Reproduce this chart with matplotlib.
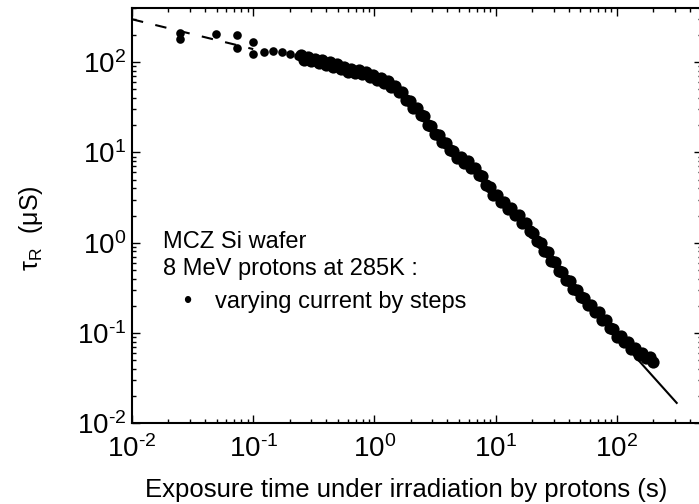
import matplotlib.pyplot as plt
import numpy as np
from matplotlib.ticker import LogLocator, NullFormatter, FuncFormatter

plt.rcParams['font.family'] = ['Liberation Sans', 'DejaVu Sans']
plt.rcParams['mathtext.fontset'] = 'custom'
plt.rcParams['mathtext.rm'] = 'Liberation Sans'
plt.rcParams['mathtext.it'] = 'Liberation Sans:italic'
plt.rcParams['mathtext.bf'] = 'Liberation Sans:bold'

# exposure time (s) and recombination lifetime (us)
t_early = [0.025, 0.025, 0.049, 0.0735, 0.0735, 0.0995, 0.0995, 0.123, 0.146, 0.173, 0.201, 0.234]
tau_early = [210, 180, 205, 200, 143, 167, 123, 129, 132, 129, 123, 117]

t_steps = [0.2455, 0.263, 0.2818, 0.302, 0.3236, 0.3467, 0.3715, 0.3981, 0.4266, 0.4571,
           0.4898, 0.5248, 0.5623, 0.6026, 0.6457, 0.6918, 0.7413, 0.7943, 0.8511, 0.912,
           0.9772, 1.047, 1.122, 1.202, 1.288, 1.380, 1.479, 1.585, 1.698, 1.820,
           1.950, 2.089, 2.239, 2.399, 2.570, 2.754, 2.951, 3.162, 3.388, 3.631,
           3.890, 4.169, 4.467, 4.786, 5.129, 5.495, 5.888, 6.310, 6.761, 7.244,
           7.762, 8.318, 8.913, 9.550, 10.23, 10.96, 11.75, 12.59, 13.49, 14.45,
           15.49, 16.60, 17.78, 19.05, 20.42, 21.88, 23.44, 25.12, 26.92, 28.84,
           30.90, 33.11, 35.48, 38.02, 40.74, 43.65, 46.77, 50.12, 53.70, 57.54,
           61.66, 66.07, 70.79, 75.86, 81.28, 87.10, 93.33, 100.0, 107.2, 114.8,
           123.0, 131.8, 141.3, 151.4, 162.2, 173.8, 186.2, 199.5]
tau_steps = [120.2, 107.2, 114.8, 102.3, 109.6, 97.7, 104.7, 93.3, 100, 89.1,
             95.5, 85.1, 89.1, 77.6, 85.1, 75.9, 82.2, 73.3, 78.3, 68.9,
             72.9, 63.8, 67.3, 58.9, 61.9, 53.1, 54.6, 46.6, 46.5, 38.1,
             37.5, 30.8, 31.1, 26.0, 25.1, 20.1, 19.5, 15.96, 15.7, 12.9,
             12.8, 10.54, 10.4, 8.63, 8.93, 7.71, 7.98, 6.78, 6.76, 5.62,
             5.45, 4.32, 4.12, 3.40, 3.40, 2.83, 2.83, 2.39, 2.42, 2.03,
             2.03, 1.66, 1.64, 1.34, 1.29, 1.03, 1.00, 0.811, 0.787, 0.630,
             0.605, 0.486, 0.473, 0.383, 0.374, 0.305, 0.299, 0.247, 0.244, 0.201,
             0.203, 0.170, 0.170, 0.140, 0.139, 0.1135, 0.1114, 0.0908, 0.0923, 0.0782,
             0.0793, 0.0665, 0.0671, 0.0574, 0.0600, 0.0522, 0.0535, 0.0473]

# fitted power laws
dash_t = [0.01, 0.1]
dash_tau = [300, 140]
fit_t = [30, 311]
fit_tau = [0.557, 0.0167]


def decade_label(v, pos):
    e = int(round(np.log10(v)))
    if e < 0:
        return r'$\mathdefault{10^{\text{-}%d}}$' % (-e)
    return r'$\mathdefault{10^{%d}}$' % e


fig = plt.figure(figsize=(6.99, 5.04), dpi=100)
ax = fig.add_axes([132 / 699, 81 / 504, 569.7 / 699, 415 / 504])

ax.plot(dash_t, dash_tau, color='black', lw=1.5, linestyle=(0, (5.5, 6)))
ax.plot(fit_t, fit_tau, color='black', lw=1.5)
ax.plot(t_early, tau_early, 'o', color='black', ms=6.2, mew=0)
ax.plot(t_steps, tau_steps, 'o', color='black', ms=8.8, mew=0)

ax.set_xscale('log')
ax.set_yscale('log')
ax.set_xlim(0.01, 500)
ax.set_ylim(0.01, 400)

for a in (ax.xaxis, ax.yaxis):
    a.set_major_locator(LogLocator(base=10, numticks=20))
    a.set_minor_locator(LogLocator(base=10, subs=np.arange(2, 10), numticks=20))
    a.set_major_formatter(FuncFormatter(decade_label))
    a.set_minor_formatter(NullFormatter())

ax.tick_params(which='both', direction='in', top=True, right=True, width=1.0)
ax.tick_params(which='major', length=6)
ax.tick_params(which='minor', length=3.2)
ax.tick_params(axis='x', which='major', labelsize=20, pad=9)
ax.tick_params(axis='y', which='major', labelsize=20, pad=4)
for s in ax.spines.values():
    s.set_linewidth(1.5)

fig.text(406 / 699, 1 - 490 / 504, 'Exposure time under irradiation by protons (s)',
         fontsize=18.5, ha='center', va='center')
fig.text(31 / 699, 1 - 228 / 504, r'$\mathrm{\tau_R}$  (μS)', fontsize=18,
         rotation=90, ha='center', va='center')

fig.text(163 / 699, 1 - 248 / 504, 'MCZ Si wafer', fontsize=17, va='baseline')
fig.text(163 / 699, 1 - 275 / 504, '8 MeV protons at 285K :', fontsize=17, va='baseline')
fig.text(187 / 699, 1 - 302 / 504, '•', fontsize=17, ha='center', va='center')
fig.text(215 / 699, 1 - 308 / 504, 'varying current by steps', fontsize=17, va='baseline')

fig.savefig('out.png', dpi=100)
